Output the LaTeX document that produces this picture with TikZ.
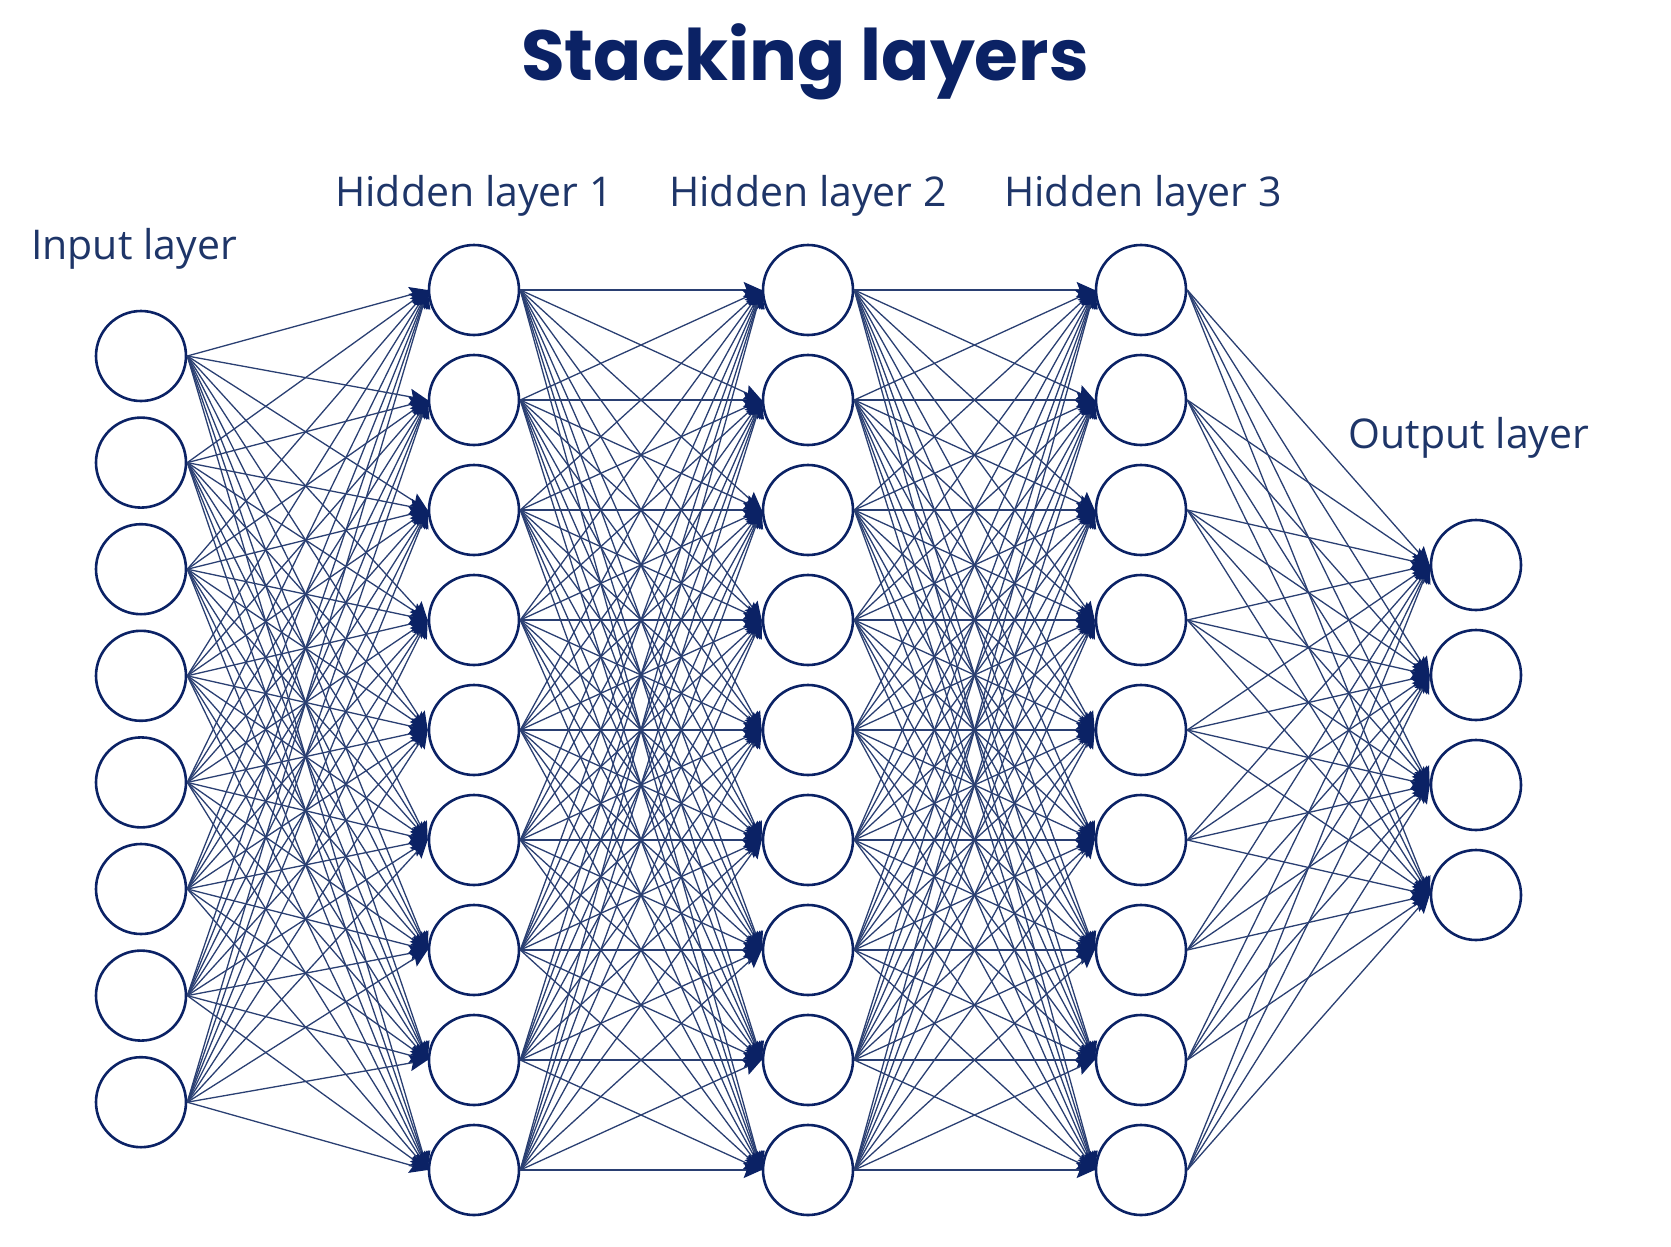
\documentclass[tikz,border=0pt]{standalone}
\usepackage{fontspec}
\setmainfont{Open Sans}
\newfontfamily\titlefont{Poppins}
\usetikzlibrary{arrows.meta}
\definecolor{navy}{HTML}{0B2265}
\definecolor{edgecol}{HTML}{2A3F72}
\definecolor{labelcol}{HTML}{1E3568}
\begin{document}
\begin{tikzpicture}[x=1pt,y=-1pt,
  neuron/.style={circle, draw=navy, line width=2.6pt, minimum size=90pt, inner sep=0pt},
  conn/.style={draw=edgecol, line width=1.3pt, -{Stealth[length=18pt,width=16pt,inset=3pt,color=navy]}},
  lbl/.style={text=labelcol, font=\fontsize{41}{48}\selectfont, inner sep=0pt},
  ttl/.style={text=navy, font=\titlefont\bfseries\fontsize{71}{85}\selectfont, inner sep=0pt}]
\useasboundingbox (0,0) rectangle (1671,1247);
% title
\node[ttl] (title) at (805,62) {Stacking layers};
% nodes
\foreach \i in {1,...,8}
  \node[neuron] (i\i) at (141,{356+106.6*(\i-1)}) {};
\foreach \l/\x in {1/474,2/808,3/1141}
  \foreach \j in {1,...,9}
    \node[neuron] (h\l-\j) at (\x,{290+110*(\j-1)}) {};
\foreach \k in {1,...,4}
  \node[neuron] (o\k) at (1476,{565+110*(\k-1)}) {};
% labels
\node[lbl] (lin) at (134,249) {Input layer};
\node[lbl] (lh1) at (474,196) {Hidden layer 1};
\node[lbl] (lh2) at (808,196) {Hidden layer 2};
\node[lbl] (lh3) at (1143,196) {Hidden layer 3};
\node[lbl] (lout) at (1469,438) {Output layer};
% connections
\foreach \i in {1,...,8}
  \foreach \j in {1,...,9}
    \draw[conn] (i\i.east) -- (h1-\j.west);
\foreach \i in {1,...,9}
  \foreach \j in {1,...,9}
    \draw[conn] (h1-\i.east) -- (h2-\j.west);
\foreach \i in {1,...,9}
  \foreach \j in {1,...,9}
    \draw[conn] (h2-\i.east) -- (h3-\j.west);
\foreach \i in {1,...,9}
  \foreach \k in {1,...,4}
    \draw[conn] (h3-\i.east) -- (o\k.west);
\end{tikzpicture}
\end{document}
